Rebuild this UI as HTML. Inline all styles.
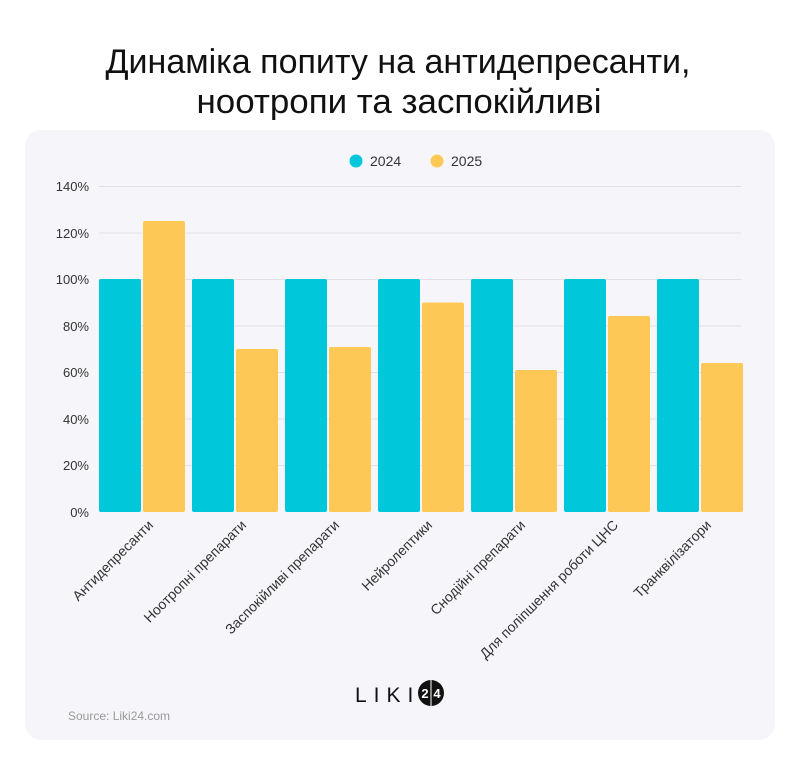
<!DOCTYPE html>
<html><head><meta charset="utf-8"><style>
html,body{margin:0;padding:0;background:#fff;}
svg{display:block;font-family:"Liberation Sans",sans-serif;}
</style></head><body>
<svg width="800" height="770" viewBox="0 0 800 770">
<rect x="0" y="0" width="800" height="770" fill="#fff"/>
<text x="398" y="73" text-anchor="middle" font-size="34" fill="#111" textLength="585" lengthAdjust="spacingAndGlyphs">Динаміка попиту на антидепресанти,</text>
<text x="399" y="113" text-anchor="middle" font-size="34" fill="#111" textLength="405" lengthAdjust="spacingAndGlyphs">ноотропи та заспокійливі</text>
<rect x="25" y="130" width="750" height="610" rx="16" fill="#f6f6fa"/>
<circle cx="356" cy="161" r="6.5" fill="#00c7d9"/>
<text x="370" y="166" font-size="14" fill="#333">2024</text>
<circle cx="437" cy="161" r="6.5" fill="#fdc855"/>
<text x="451" y="166" font-size="14" fill="#333">2025</text>
<g stroke="#e0e0e6" stroke-width="1">
<line x1="99" x2="741" y1="186.5" y2="186.5"/>
<line x1="99" x2="741" y1="233" y2="233"/>
<line x1="99" x2="741" y1="279.5" y2="279.5"/>
<line x1="99" x2="741" y1="326" y2="326"/>
<line x1="99" x2="741" y1="372.5" y2="372.5"/>
<line x1="99" x2="741" y1="419" y2="419"/>
<line x1="99" x2="741" y1="465.5" y2="465.5"/>
</g>
<g font-size="13" fill="#333" text-anchor="end">
<text x="89" y="191">140%</text>
<text x="89" y="238">120%</text>
<text x="89" y="284">100%</text>
<text x="89" y="331">80%</text>
<text x="89" y="377">60%</text>
<text x="89" y="424">40%</text>
<text x="89" y="470">20%</text>
<text x="89" y="517">0%</text>
</g>
<g fill="#00c7d9">
<rect x="99" y="279" width="42" height="233" rx="2"/>
<rect x="192" y="279" width="42" height="233" rx="2"/>
<rect x="285" y="279" width="42" height="233" rx="2"/>
<rect x="378" y="279" width="42" height="233" rx="2"/>
<rect x="471" y="279" width="42" height="233" rx="2"/>
<rect x="564" y="279" width="42" height="233" rx="2"/>
<rect x="657" y="279" width="42" height="233" rx="2"/>
</g>
<g fill="#fdc855">
<rect x="143" y="221" width="42" height="291" rx="2"/>
<rect x="236" y="349" width="42" height="163" rx="2"/>
<rect x="329" y="347" width="42" height="165" rx="2"/>
<rect x="422" y="302.5" width="42" height="209.5" rx="2"/>
<rect x="515" y="370" width="42" height="142" rx="2"/>
<rect x="608" y="316" width="42" height="196" rx="2"/>
<rect x="701" y="363" width="42" height="149" rx="2"/>
</g>
<g font-size="14" fill="#333" text-anchor="end">
<text transform="translate(154,526) rotate(-45)">Антидепресанти</text>
<text transform="translate(247,526) rotate(-45)">Ноотропні препарати</text>
<text transform="translate(340,526) rotate(-45)">Заспокійливі препарати</text>
<text transform="translate(433,526) rotate(-45)">Нейролептики</text>
<text transform="translate(526,526) rotate(-45)">Снодійні препарати</text>
<text transform="translate(619,526) rotate(-45)">Для поліпшення роботи ЦНС</text>
<text transform="translate(712,526) rotate(-45)">Транквілізатори</text>
</g>
<text x="355" y="702" font-size="21" fill="#111" letter-spacing="7">LIKI</text>
<circle cx="431" cy="693" r="13" fill="#111"/>
<line x1="431" y1="680" x2="431" y2="706" stroke="#fff" stroke-width="1"/>
<text x="425" y="698" font-size="13" fill="#fff" text-anchor="middle" font-weight="bold">2</text>
<text x="437" y="698" font-size="13" fill="#fff" text-anchor="middle" font-weight="bold">4</text>
<text x="68" y="720" font-size="12" fill="#999">Source: Liki24.com</text>
</svg>
</body></html>
